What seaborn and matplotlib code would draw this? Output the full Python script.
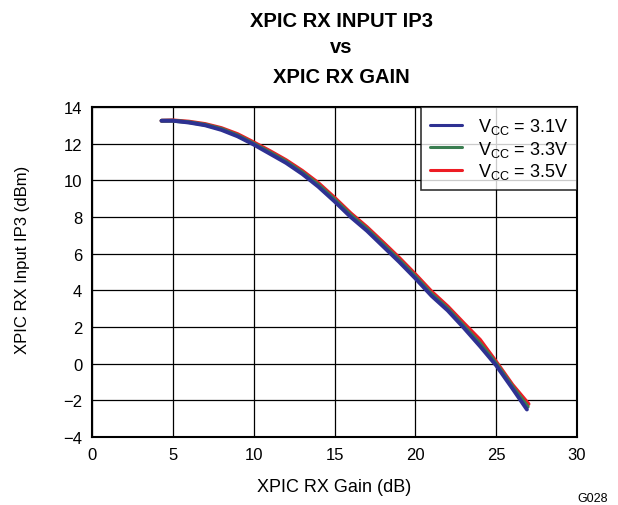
import numpy as np
import pandas as pd
import matplotlib
matplotlib.use("Agg")
import matplotlib.pyplot as plt
import seaborn as sns

gain_31 = [4.3, 5, 6, 7, 8, 9, 10, 11, 12, 13, 14, 15, 16, 17, 18, 19, 20, 21, 22, 23, 24, 25, 26, 26.9]
ip3_31 = [13.25, 13.25, 13.15, 13.0, 12.75, 12.4, 11.95, 11.45, 10.95, 10.35, 9.65, 8.85, 8.0, 7.25, 6.4, 5.55, 4.65, 3.7, 2.9, 1.95, 0.95, -0.1, -1.35, -2.5]
gain_33 = [4.3, 5, 6, 7, 8, 9, 10, 11, 12, 13, 14, 15, 16, 17, 18, 19, 20, 21, 22, 23, 24, 25, 26, 26.95]
ip3_33 = [13.25, 13.25, 13.17, 13.03, 12.8, 12.45, 12.0, 11.52, 11.02, 10.43, 9.75, 8.95, 8.1, 7.35, 6.5, 5.65, 4.75, 3.8, 3.0, 2.05, 1.1, 0.0, -1.25, -2.35]
gain_35 = [4.3, 5, 6, 7, 8, 9, 10, 11, 12, 13, 14, 15, 16, 17, 18, 19, 20, 21, 22, 23, 24, 25, 26, 27.0]
ip3_35 = [13.25, 13.27, 13.2, 13.07, 12.85, 12.52, 12.07, 11.6, 11.1, 10.52, 9.85, 9.05, 8.2, 7.45, 6.62, 5.77, 4.87, 3.93, 3.12, 2.2, 1.3, 0.1, -1.15, -2.2]

series_labels = [r"V$_{\mathrm{CC}}$ = 3.1V", r"V$_{\mathrm{CC}}$ = 3.3V", r"V$_{\mathrm{CC}}$ = 3.5V"]
colors = ["#2E3192", "#3A7D50", "#ED1C24"]

x_ticks = [0, 5, 10, 15, 20, 25, 30]
y_ticks = [-4, -2, 0, 2, 4, 6, 8, 10, 12, 14]

df = pd.concat([
    pd.DataFrame({"gain": g, "ip3": v, "series": lab})
    for g, v, lab in zip([gain_31, gain_33, gain_35], [ip3_31, ip3_33, ip3_35], series_labels)
])

sns.set_theme(style="white")
plt.rcParams["font.family"] = ["Liberation Sans", "DejaVu Sans"]
plt.rcParams["mathtext.fontset"] = "custom"
plt.rcParams["mathtext.rm"] = "Liberation Sans"
plt.rcParams["text.color"] = "black"
plt.rcParams["axes.labelcolor"] = "black"

fig = plt.figure(figsize=(6.18, 5.06), dpi=100)
ax = fig.add_axes([0.1489, 0.1344, 0.7848, 0.6522])

# draw in reverse so blue on top
for lab, col in list(zip(series_labels, colors))[::-1]:
    sub = df[df["series"] == lab]
    sns.lineplot(data=sub, x="gain", y="ip3", ax=ax, color=col, linewidth=2.8,
                 label=lab, sort=False, solid_capstyle="round")

ax.set_xlim(0, 30)
ax.set_ylim(-4, 14)
ax.set_xticks(x_ticks)
ax.set_yticks(y_ticks)
ax.set_yticklabels([str(t).replace("-", "\u2212") for t in y_ticks])
ax.grid(True, color="black", linewidth=0.9)
ax.tick_params(length=0, labelsize=12, colors="black", pad=7)
for s in ax.spines.values():
    s.set_color("black")
    s.set_linewidth(1.5)
ax.set_xlabel("XPIC RX Gain (dB)", fontsize=13, labelpad=12, color="black")
ax.set_ylabel("XPIC RX Input IP3 (dBm)", fontsize=12, color="black")
ax.yaxis.set_label_coords(-0.128, 0.539)

handles, labels = ax.get_legend_handles_labels()
order = [labels.index(l) for l in series_labels]
leg = ax.legend([handles[i] for i in order], [labels[i] for i in order],
                loc="upper right", fontsize=13, frameon=True, fancybox=False,
                borderaxespad=0.0, handlelength=1.8, handletextpad=0.85,
                labelspacing=0.15, borderpad=0.5)
leg.get_frame().set_edgecolor("black")
leg.get_frame().set_linewidth(1.2)
for h in leg.get_lines():
    h.set_linewidth(2.2)

fig.text(0.552, 0.9466, "XPIC RX INPUT IP3", ha="center", va="baseline", fontsize=14.5, fontweight="bold")
fig.text(0.552, 0.8953, "vs", ha="center", va="baseline", fontsize=14.5, fontweight="bold")
fig.text(0.552, 0.836, "XPIC RX GAIN", ha="center", va="baseline", fontsize=14.5, fontweight="bold")
fig.text(0.984, 0.014, "G028", ha="right", va="center", fontsize=9)

fig.savefig("out.png", dpi=100)
